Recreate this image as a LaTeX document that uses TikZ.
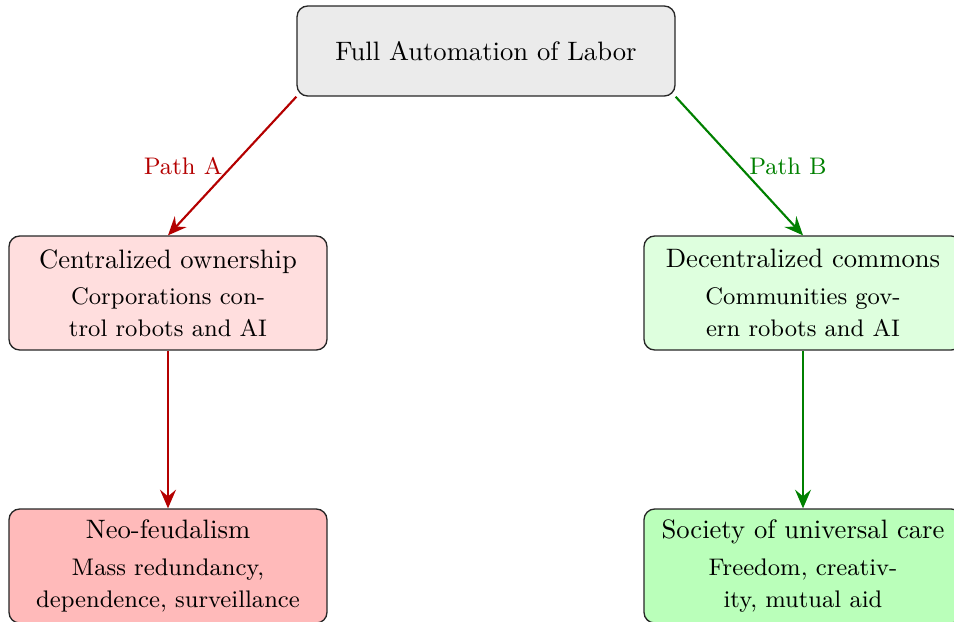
\documentclass[tikz,border=0pt]{standalone}
\usetikzlibrary{arrows.meta}
\definecolor{pathred}{RGB}{180,0,0}
\definecolor{pathgreen}{RGB}{0,128,0}
\begin{document}
\begin{tikzpicture}[x=0.3755pt,y=-0.3755pt,
  box/.style={draw=black!85, line width=0.5pt, rounded corners=4pt, align=center, font=\normalsize},
  topbox/.style={box, fill=black!8, minimum width=141.9pt, minimum height=33.8pt},
  outbox/.style={box, minimum width=119.4pt, minimum height=42.8pt, inner sep=0pt},
  redarr/.style={draw=pathred, thick, -{Stealth[length=7pt,width=6pt,inset=2.5pt]}},
  greenarr/.style={draw=pathgreen, thick, -{Stealth[length=7pt,width=6pt,inset=2.5pt]}},
  lbl/.style={font=\small}
]
\useasboundingbox (0,0) rectangle (954,621);
\node[topbox] (top) at (486,51) {Full Automation of Labor};
\node[outbox, fill=red!13] (cent) at (168,293) {Centralized ownership\\[1.7pt]{\small Corporations con-}\\{\small trol robots and AI}};
\node[outbox, fill=green!13] (dec) at (803,293) {Decentralized commons\\[1.7pt]{\small Communities gov-}\\{\small ern robots and AI}};
\node[outbox, fill=red!27] (feud) at (168,566) {Neo-feudalism\\[1.7pt]{\small Mass redundancy,}\\{\small dependence, surveillance}};
\node[outbox, fill=green!27] (care) at (803,566) {Society of universal care\\[1.7pt]{\small Freedom, creativ-}\\{\small ity, mutual aid}};
\draw[redarr] (top.south west) -- node[lbl, left, text=pathred] (pa) {Path A} (cent.north);
\draw[greenarr] (top.south east) -- node[lbl, right, text=pathgreen] (pb) {Path B} (dec.north);
\draw[redarr] (cent.south) -- (feud.north);
\draw[greenarr] (dec.south) -- (care.north);
\end{tikzpicture}
\end{document}
